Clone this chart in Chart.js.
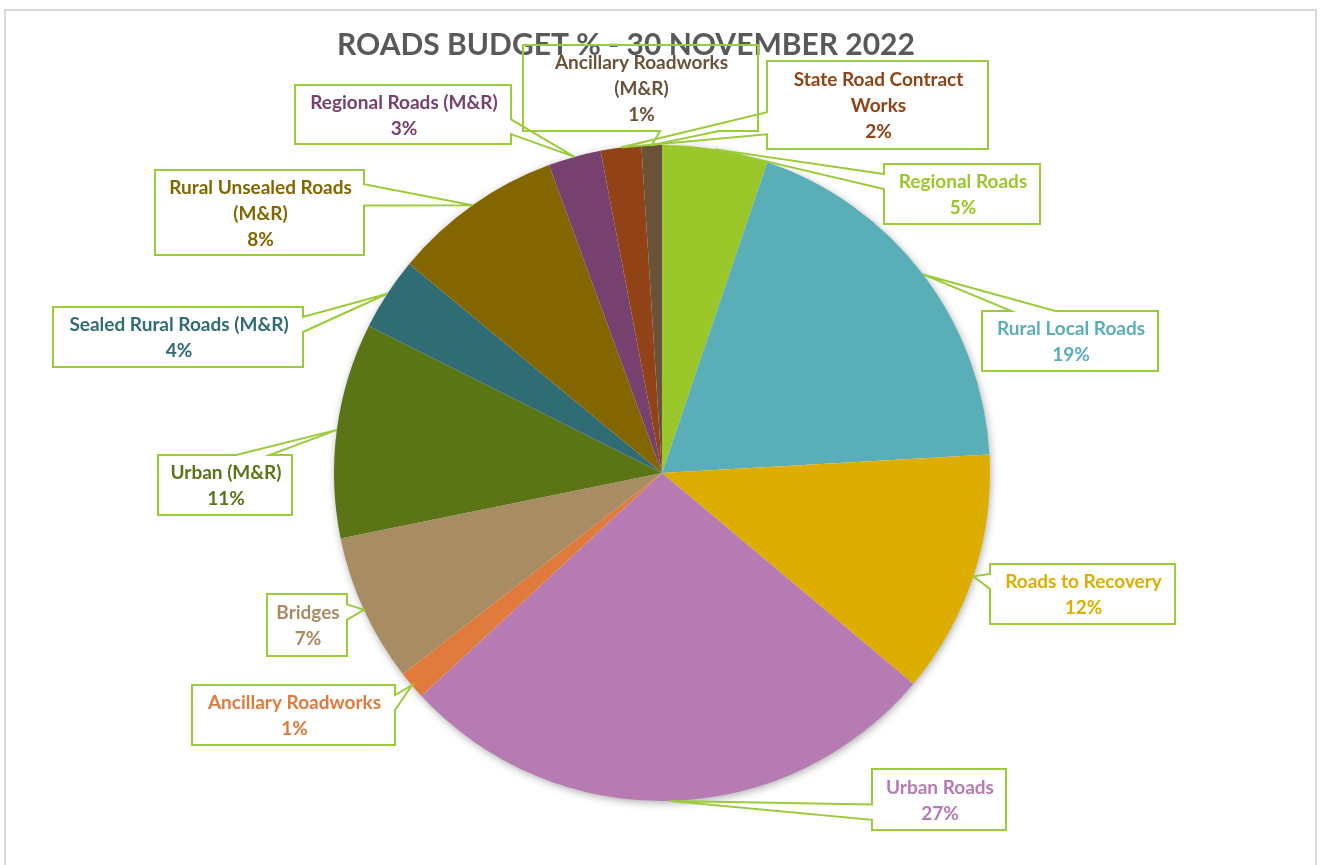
<!DOCTYPE html>
<html>
<head>
<meta charset="utf-8">
<script src="https://cdn.jsdelivr.net/npm/chart.js@4.4.1/dist/chart.umd.min.js"></script>
<style>
  html, body { margin: 0; padding: 0; background: #ffffff; overflow: hidden; }
  #wrap { position: relative; width: 1322px; height: 865px; }
  #frame { position: absolute; left: 4px; top: 9px; width: 1313px; height: 900px;
           border: 2px solid #D9D9D9; border-bottom: none; box-sizing: border-box; pointer-events: none; }
  canvas { position: absolute; left: 0; top: 0; }
</style>
</head>
<body>
<div id="wrap">
  <canvas id="c" width="1322" height="865"></canvas>
  <div id="frame"></div>
</div>
<script>
// ---- data ----
const titleText = 'ROADS BUDGET % - 30 NOVEMBER 2022';
const categories = [
  ['Regional Roads'],
  ['Rural Local Roads'],
  ['Roads to Recovery'],
  ['Urban Roads'],
  ['Ancillary Roadworks'],
  ['Bridges'],
  ['Urban (M&R)'],
  ['Sealed Rural Roads (M&R)'],
  ['Rural Unsealed Roads', '(M&R)'],
  ['Regional Roads (M&R)'],
  ['State Road Contract', 'Works'],
  ['Ancillary Roadworks', '(M&R)']
];
const budgetShare = [5.2, 18.9, 12.0, 27.0, 1.4, 7.3, 10.6, 3.6, 8.4, 2.6, 2.0, 1.0];

// ---- styles ----
const sliceColors = ['#9AC72A', '#5AAEB8', '#DDAD00', '#B57BB2', '#E07A3D', '#A88C63',
                     '#5B7516', '#306C73', '#836600', '#77416F', '#914217', '#6A5238'];
const labelColors = ['#9AC72A', '#5AAEB8', '#DDAD00', '#B57BB2', '#E07A3D', '#A88C63',
                     '#5B7516', '#306C73', '#836600', '#77416F', '#914217', '#6A5238'];
// callout box layout (left, top, right, bottom) in canvas pixels
const calloutBoxes = [
  [884, 164, 1040, 224],
  [982, 311, 1158, 371],
  [990, 564, 1175, 624],
  [872, 769, 1006, 830],
  [192, 685, 395, 745],
  [267, 594, 347, 656],
  [158, 455, 292, 515],
  [53, 307, 303, 367],
  [155, 170, 364, 255],
  [295, 85, 511, 144],
  [767, 61, 988, 149],
  [523, 45, 758, 131]
];

const FONT = 'Lato, "Open Sans", sans-serif';

function calloutPath(ctx, l, t, r, b, tx, ty) {
  const w = r - l, h = b - t, hc = (l + r) / 2, vc = (t + b) / 2;
  const dx = tx - hc, dy = ty - vc;
  const dq = dx * h / w;
  const dz = Math.abs(dy) - Math.abs(dq);
  const x1 = l + w * (dx > 0 ? 7 : 2) / 12, x2 = l + w * (dx > 0 ? 10 : 5) / 12;
  const y1 = t + h * (dy > 0 ? 7 : 2) / 12, y2 = t + h * (dy > 0 ? 10 : 5) / 12;
  ctx.beginPath();
  ctx.moveTo(l, t);
  if (dz > 0 && dy < 0) { ctx.lineTo(x1, t); ctx.lineTo(tx, ty); ctx.lineTo(x2, t); }
  ctx.lineTo(r, t);
  if (dz <= 0 && dx > 0) { ctx.lineTo(r, y1); ctx.lineTo(tx, ty); ctx.lineTo(r, y2); }
  ctx.lineTo(r, b);
  if (dz > 0 && dy > 0) { ctx.lineTo(x2, b); ctx.lineTo(tx, ty); ctx.lineTo(x1, b); }
  ctx.lineTo(l, b);
  if (dz <= 0 && dx < 0) { ctx.lineTo(l, y2); ctx.lineTo(tx, ty); ctx.lineTo(l, y1); }
  ctx.closePath();
}

const pieShadowAndTitle = {
  id: 'pieShadowAndTitle',
  beforeDatasetsDraw(chart) {
    const ctx = chart.ctx;
    // title
    ctx.save();
    ctx.fillStyle = '#595959';
    ctx.font = 'bold 30px ' + FONT;
    ctx.textAlign = 'center';
    ctx.textBaseline = 'middle';
    ctx.fillText(titleText, 626, 45);
    ctx.restore();
    // soft shadow under the pie
    const arcs = chart.getDatasetMeta(0).data;
    if (!arcs.length) return;
    const p = arcs[0].getProps(['x', 'y', 'outerRadius'], true);
    ctx.save();
    ctx.shadowColor = 'rgba(0,0,0,0.35)';
    ctx.shadowBlur = 8;
    ctx.shadowOffsetX = 1;
    ctx.shadowOffsetY = 2;
    ctx.fillStyle = '#ffffff';
    ctx.beginPath();
    ctx.arc(p.x, p.y, p.outerRadius - 0.5, 0, Math.PI * 2);
    ctx.fill();
    ctx.restore();
  }
};

const callouts = {
  id: 'callouts',
  afterDatasetsDraw(chart) {
    const ctx = chart.ctx;
    const ds = chart.data.datasets[0].data;
    const total = ds.reduce((a, b) => a + b, 0);
    const arcs = chart.getDatasetMeta(0).data;
    arcs.forEach((arc, i) => {
      const p = arc.getProps(['x', 'y', 'startAngle', 'endAngle', 'outerRadius'], true);
      const mid = (p.startAngle + p.endAngle) / 2;
      const tx = p.x + Math.cos(mid) * p.outerRadius;
      const ty = p.y + Math.sin(mid) * p.outerRadius;
      const [l, t, r, b] = calloutBoxes[i];
      ctx.save();
      calloutPath(ctx, l, t, r, b, tx, ty);
      ctx.lineWidth = 2;
      ctx.lineJoin = 'miter';
      ctx.strokeStyle = '#9BCB3A';
      ctx.stroke();
      const lines = chart.data.labels[i].slice();
      lines.push(Math.round(ds[i] * 100 / total) + '%');
      ctx.fillStyle = labelColors[i];
      ctx.font = 'bold 19px ' + FONT;
      ctx.textAlign = 'center';
      ctx.textBaseline = 'middle';
      const lh = 26;
      const cx = (l + r) / 2 + 1, cy = (t + b) / 2 + 1;
      lines.forEach((s, k) => {
        ctx.fillText(s, cx, cy + (k - (lines.length - 1) / 2) * lh);
      });
      ctx.restore();
    });
  }
};

new Chart(document.getElementById('c'), {
  type: 'pie',
  data: {
    labels: categories,
    datasets: [{
      data: budgetShare,
      backgroundColor: sliceColors,
      borderWidth: 0,
      hoverOffset: 0
    }]
  },
  options: {
    responsive: false,
    devicePixelRatio: 1,
    animation: false,
    events: [],
    layout: { padding: { left: 2, right: 0, top: 145, bottom: 64 } },
    plugins: {
      legend: { display: false },
      tooltip: { enabled: false },
      title: { display: false }
    }
  },
  plugins: [pieShadowAndTitle, callouts]
});
</script>
</body>
</html>
